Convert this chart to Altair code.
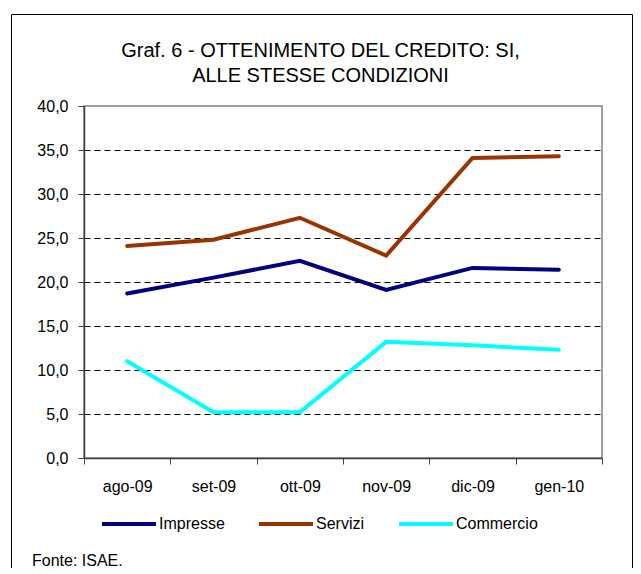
import altair as alt
import pandas as pd

# ---- data ----
months = ["ago-09", "set-09", "ott-09", "nov-09", "dic-09", "gen-10"]
series = ["Impresse", "Servizi", "Commercio"]
impresse = [18.7, 20.5, 22.4, 19.1, 21.6, 21.4]
servizi = [24.1, 24.8, 27.3, 23.0, 34.1, 34.3]
commercio = [11.0, 5.2, 5.2, 13.2, 12.8, 12.3]
colors = ["#000080", "#993300", "#00FFFF"]
line_widths = [4.0, 4.0, 5.5]
y_ticks = [0, 5, 10, 15, 20, 25, 30, 35, 40]
title_lines = ["Graf. 6 - OTTENIMENTO DEL CREDITO: SI,", "ALLE STESSE CONDIZIONI"]
source_note = "Fonte: ISAE."

rows = []
for name, vals in zip(series, [impresse, servizi, commercio]):
    for m, v in zip(months, vals):
        rows.append({"month": m, "series": name, "value": v})
df = pd.DataFrame(rows)
one = pd.DataFrame({"k": [0]})

FONT = "Liberation Sans"
W, H = 518, 352

lines = alt.Chart(df).mark_line(strokeCap="round").encode(
    x=alt.X(
        "month:N", sort=months, bandPosition=0.5,
        scale=alt.Scale(type="band", paddingInner=0, paddingOuter=0),
        axis=alt.Axis(
            title=None, tickBand="extent", labelAngle=0, labelFont=FONT,
            labelFontSize=16, labelColor="black", tickSize=6, tickColor="#404040",
            domainColor="#404040", domainWidth=1.5, labelPadding=14, grid=False,
        ),
    ),
    y=alt.Y(
        "value:Q",
        scale=alt.Scale(domain=[0, 40], nice=False),
        axis=alt.Axis(
            title=None, values=y_ticks,
            labelExpr="replace(format(datum.value, '.1f'), '.', ',')",
            labelFont=FONT, labelFontSize=16, labelColor="black",
            tickSize=6, tickColor="#404040", domainColor="#404040", domainWidth=1.5,
            labelPadding=10, grid=True, gridColor="black", gridDash=[6, 4], gridWidth=1,
            gridOpacity={"condition": {"test": "datum.value == 40 || datum.value == 0", "value": 0}, "value": 1},
        ),
    ),
    color=alt.Color(
        "series:N", sort=series,
        scale=alt.Scale(domain=series, range=colors),
        legend=alt.Legend(
            title=None, orient="none", direction="horizontal", legendX=16, legendY=389,
            symbolType="stroke", symbolSize=2916, symbolStrokeWidth=4,
            labelFont=FONT, labelFontSize=16, labelColor="black", labelOffset=1,
            columnPadding=26, padding=0,
        ),
    ),
    strokeWidth=alt.StrokeWidth(
        "series:N", sort=series,
        scale=alt.Scale(domain=series, range=line_widths), legend=None,
    ),
)

frame = alt.Chart(one).mark_rect(fillOpacity=0, stroke="black", strokeWidth=1).encode(
    x=alt.value(-72.5), x2=alt.value(548.5), y=alt.value(-91.5), y2=alt.value(480)
)

title1 = alt.Chart(one).mark_text(
    text=title_lines[0], font=FONT, fontSize=20, align="center", baseline="alphabetic", color="black"
).encode(x=alt.value(236.5), y=alt.value(-49))
title2 = alt.Chart(one).mark_text(
    text=title_lines[1], font=FONT, fontSize=20, align="center", baseline="alphabetic", color="black"
).encode(x=alt.value(236.5), y=alt.value(-24))
note = alt.Chart(one).mark_text(
    text=source_note, font=FONT, fontSize=16, align="left", baseline="alphabetic", color="black"
).encode(x=alt.value(-52), y=alt.value(460))

chart = alt.layer(frame, title1, title2, note, lines).properties(
    width=W, height=H,
    autosize=alt.AutoSizeParams(type="none"),
    padding={"left": 76, "top": 98, "right": 31, "bottom": 110},
).configure_view(stroke="#808080", strokeWidth=1.5)

chart.save("out.html", embed_options={"renderer": "svg", "actions": False})
